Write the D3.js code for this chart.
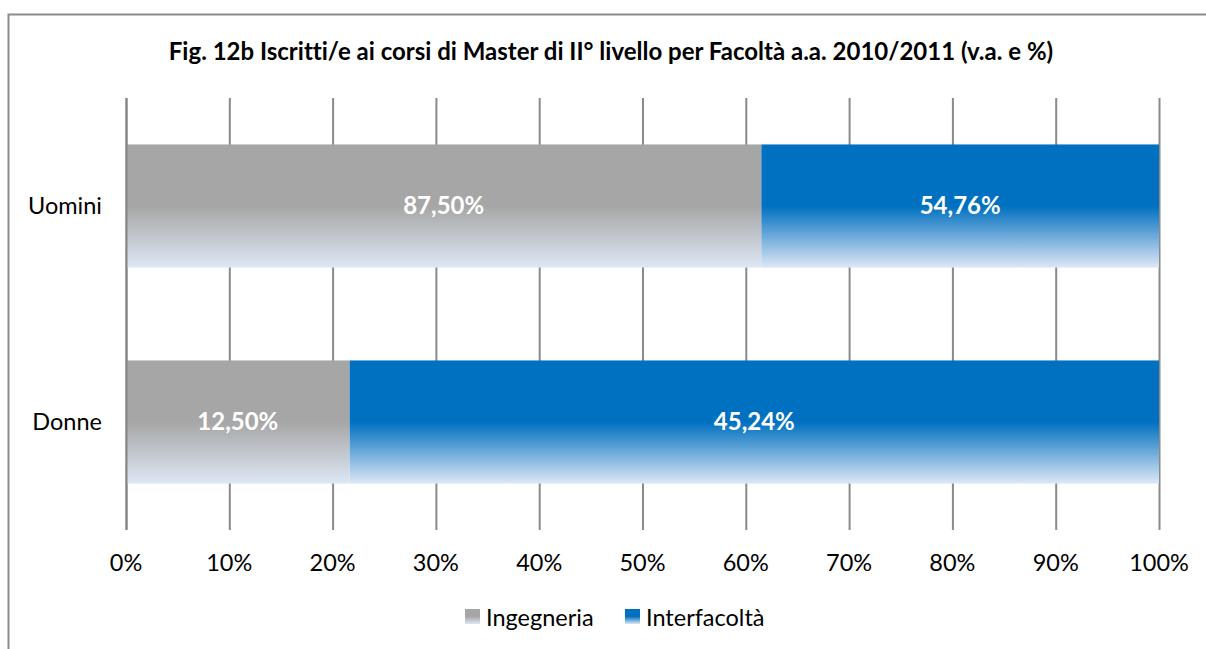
<!DOCTYPE html>
<html>
<head>
<meta charset="utf-8">
<script src="https://cdn.jsdelivr.net/npm/d3@7"></script>
<style>
  body { margin: 0; background: #fff; }
  svg { display: block; font-family: Lato, "Open Sans", sans-serif; font-variant-ligatures: none; }
</style>
</head>
<body>
<div id="chart"></div>
<script>
var width = 1206, height = 649;

// data
var categories = ["Uomini", "Donne"];
var series = ["Ingegneria", "Interfacoltà"];
var ingegneria = [87.50, 12.50];
var interfacolta = [54.76, 45.24];
var xTicks = [0, 0.1, 0.2, 0.3, 0.4, 0.5, 0.6, 0.7, 0.8, 0.9, 1];
var colors = ["#a6a6a6", "#0070c0"];

var margin = { left: 126, right: 47, top: 98, bottom: 119 };
var fs = 23.5;

var svg = d3.select("#chart").append("svg")
    .attr("width", width)
    .attr("height", height);

// gradients: solid top half, fading to pale blue at the bottom
var defs = svg.append("defs");
colors.forEach(function (c, i) {
    var g = defs.append("linearGradient")
        .attr("id", "grad" + i)
        .attr("x1", 0).attr("y1", 0).attr("x2", 0).attr("y2", 1);
    g.append("stop").attr("offset", "0%").attr("stop-color", c);
    g.append("stop").attr("offset", "50%").attr("stop-color", c);
    g.append("stop").attr("offset", "100%").attr("stop-color", "#dde7f5");
});

// outer frame (runs off the right and bottom edges)
svg.append("rect")
    .attr("x", 8.5).attr("y", 14.5)
    .attr("width", 1220).attr("height", 660)
    .attr("fill", "none")
    .attr("stroke", "#8c8c8c")
    .attr("stroke-width", 2);

svg.append("text")
    .attr("x", 611).attr("y", 60)
    .attr("text-anchor", "middle")
    .attr("font-weight", "bold")
    .attr("font-size", 24)
    .attr("fill", "#000")
    .text("Fig. 12b Iscritti/e ai corsi di Master di II° livello per Facoltà a.a. 2010/2011 (v.a. e %)");

var x = d3.scaleLinear().domain([0, 1]).range([margin.left, width - margin.right]);
var y = d3.scaleBand().domain(categories).range([margin.top, height - margin.bottom]).paddingInner(0.43).paddingOuter(0.215);

// gridlines
svg.append("g").selectAll("line")
    .data(xTicks)
    .enter().append("line")
    .attr("x1", d => x(d) + 0.5).attr("x2", d => x(d) + 0.5)
    .attr("y1", margin.top).attr("y2", height - margin.bottom)
    .attr("stroke", "#8a8a8a")
    .attr("stroke-width", 2);

// stacked to 100%
var rows = categories.map(function (c, i) {
    return { cat: c, Ingegneria: ingegneria[i], "Interfacoltà": interfacolta[i] };
});
var stack = d3.stack().keys(series).offset(d3.stackOffsetExpand);
var layers = stack(rows);

var fmt = v => v.toFixed(2).replace(".", ",") + "%";

layers.forEach(function (layer, li) {
    var g = svg.append("g");
    g.selectAll("rect")
        .data(layer)
        .enter().append("rect")
        .attr("x", d => x(d[0]))
        .attr("y", d => y(d.data.cat))
        .attr("width", d => x(d[1]) - x(d[0]))
        .attr("height", y.bandwidth())
        .attr("fill", "url(#grad" + li + ")");
    g.selectAll("text")
        .data(layer)
        .enter().append("text")
        .attr("x", d => (x(d[0]) + x(d[1])) / 2)
        .attr("y", d => y(d.data.cat) + y.bandwidth() / 2 + 8)
        .attr("text-anchor", "middle")
        .attr("font-weight", "bold")
        .attr("font-size", 24)
        .attr("fill", "#fff")
        .text(d => fmt(d.data[layer.key]));
});

// left axis line on top
svg.append("line")
    .attr("x1", x(0) + 0.5).attr("x2", x(0) + 0.5)
    .attr("y1", margin.top).attr("y2", height - margin.bottom)
    .attr("stroke", "#868686").attr("stroke-width", 2);

// x tick labels
svg.append("g").selectAll("text")
    .data(xTicks)
    .enter().append("text")
    .attr("x", d => x(d))
    .attr("y", 571)
    .attr("text-anchor", "middle")
    .attr("font-size", fs)
    .attr("fill", "#000")
    .text(d3.format(".0%"));

// category labels
svg.append("g").selectAll("text")
    .data(categories)
    .enter().append("text")
    .attr("x", 102)
    .attr("y", d => y(d) + y.bandwidth() / 2 + 8)
    .attr("text-anchor", "end")
    .attr("font-size", fs)
    .attr("fill", "#000")
    .text(d => d);

// legend
var legendX = [465, 625];
var leg = svg.append("g").selectAll("g")
    .data(series)
    .enter().append("g")
    .attr("transform", (d, i) => "translate(" + legendX[i] + ",609)");
leg.append("rect")
    .attr("width", 15).attr("height", 15)
    .attr("fill", (d, i) => "url(#grad" + i + ")");
leg.append("text")
    .attr("x", 21).attr("y", 17)
    .attr("font-size", fs)
    .attr("fill", "#000")
    .text(d => d);
</script>
</body>
</html>
